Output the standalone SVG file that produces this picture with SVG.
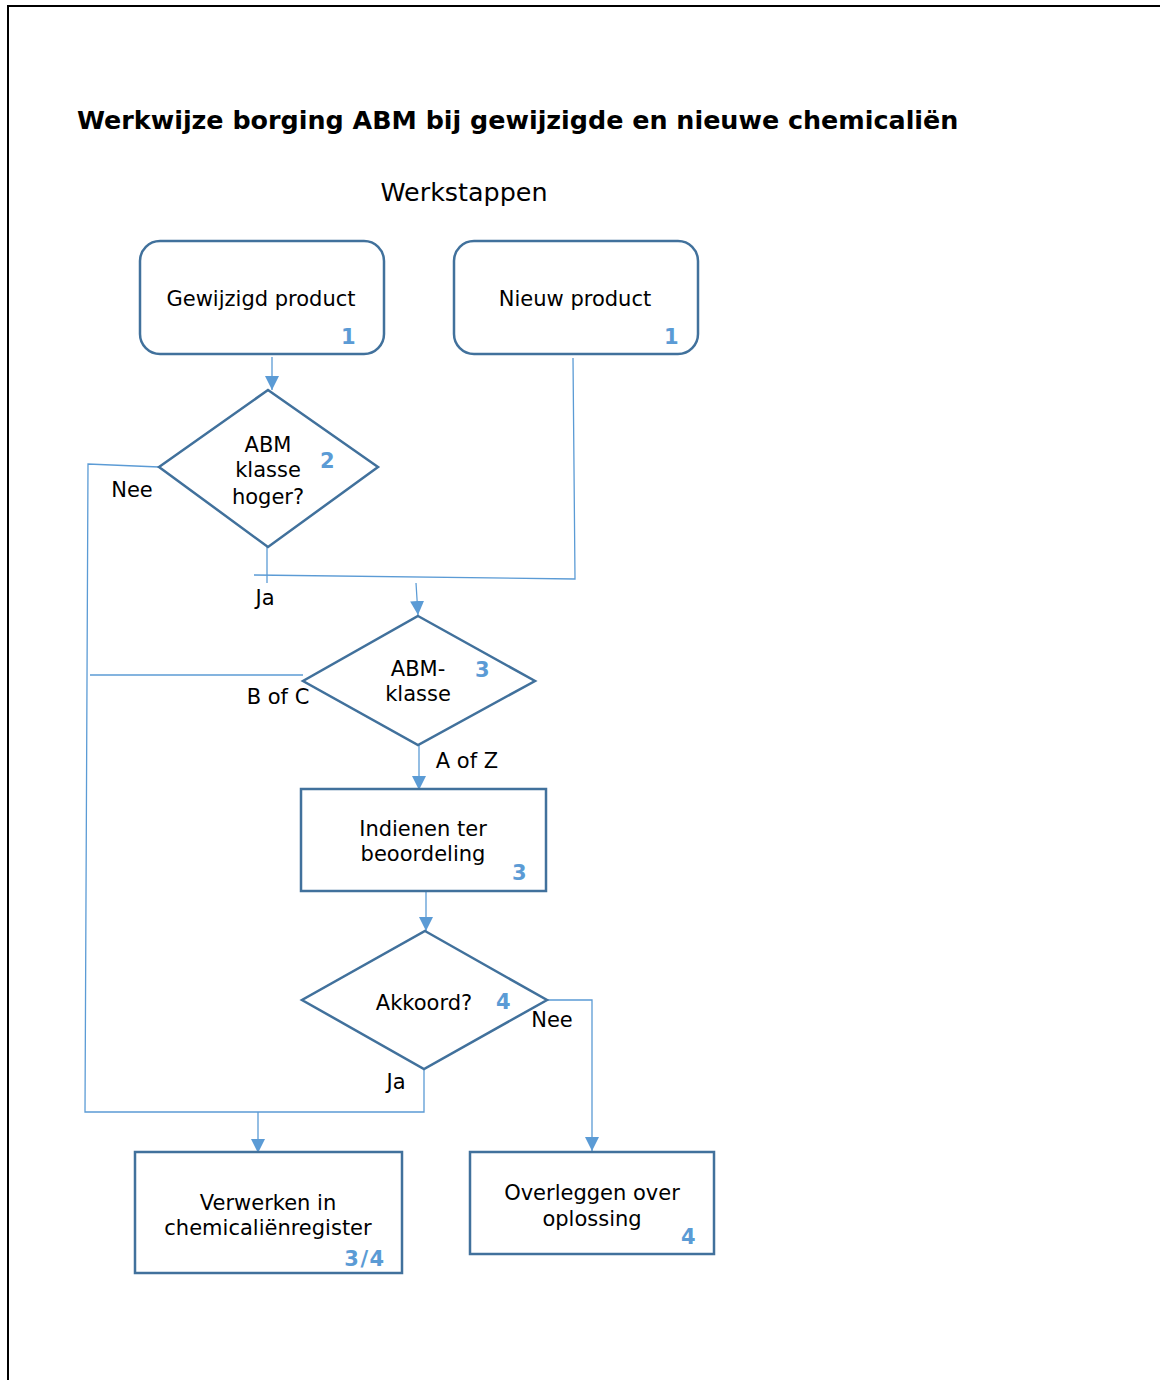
<svg xmlns="http://www.w3.org/2000/svg" width="1160" height="1380" viewBox="0 0 1160 1380">
<defs>
<style>
.t{font-family:"DejaVu Sans",Verdana,sans-serif;font-size:21px;fill:#000;text-anchor:middle}
.n{font-family:"DejaVu Sans",Verdana,sans-serif;font-size:21px;font-weight:bold;fill:#5B9BD5;text-anchor:middle;letter-spacing:1.5px}
.s{fill:#fff;stroke:#41719C;stroke-width:2.5}
.c{fill:none;stroke:#5B9BD5;stroke-width:1.3}
</style>
<marker id="ah" viewBox="0 0 10 10" refX="10" refY="5" markerWidth="14" markerHeight="14" markerUnits="userSpaceOnUse" orient="auto">
<path d="M0,0 L10,5 L0,10 Z" fill="#5B9BD5"/>
</marker>
</defs>
<rect x="0" y="0" width="1160" height="1380" fill="#fff"/>
<rect x="8" y="6" width="1200" height="1400" fill="none" stroke="#000" stroke-width="2"/>
<text x="77" y="129" style="font-family:'DejaVu Sans',Verdana,sans-serif;font-size:25.4px;font-weight:bold" fill="#000">Werkwijze borging ABM bij gewijzigde en nieuwe chemicaliën</text>
<text x="464" y="201" class="t" style="font-size:25.4px">Werkstappen</text>

<g id="connectors">
<line class="c" x1="272" y1="357" x2="272" y2="390" marker-end="url(#ah)"/>
<polyline class="c" points="573,358 575,579 254,575"/>
<line class="c" x1="416" y1="583" x2="418" y2="615" marker-end="url(#ah)"/>
<line class="c" x1="267" y1="547" x2="267" y2="583"/>
<polyline class="c" points="159,467 88,464 85,1112 424,1112 424,1069"/>
<line class="c" x1="90" y1="675" x2="303" y2="675"/>
<line class="c" x1="419" y1="745" x2="419" y2="790" marker-end="url(#ah)"/>
<line class="c" x1="426" y1="891" x2="426" y2="931" marker-end="url(#ah)"/>
<polyline class="c" points="547,1000 592,1000 592,1151" marker-end="url(#ah)"/>
<line class="c" x1="258" y1="1112" x2="258" y2="1153" marker-end="url(#ah)"/>
<text class="t" x="132" y="497">Nee</text>
<text class="t" x="265" y="605">Ja</text>
<text class="t" x="278" y="704">B of C</text>
<text class="t" x="467" y="768">A of Z</text>
<text class="t" x="552" y="1027">Nee</text>
<text class="t" x="396" y="1089">Ja</text>
</g>

<g id="gewijzigd">
<rect class="s" x="140" y="241" width="244" height="113" rx="20"/>
<text class="t" x="261" y="306">Gewijzigd product</text>
<text class="n" x="349" y="344">1</text>
</g>
<g id="nieuw">
<rect class="s" x="454" y="241" width="244" height="113" rx="20"/>
<text class="t" x="575" y="306">Nieuw product</text>
<text class="n" x="672" y="344">1</text>
</g>
<g id="hoger">
<polygon class="s" points="268,390 378,467 268,547 159,467"/>
<text class="t" x="268" y="452">ABM</text>
<text class="t" x="268" y="477">klasse</text>
<text class="t" x="268" y="504">hoger?</text>
<text class="n" x="328" y="468">2</text>
</g>
<g id="klasse">
<polygon class="s" points="418,616 535,681 418,745 303,681"/>
<text class="t" x="418" y="676">ABM-</text>
<text class="t" x="418" y="701">klasse</text>
<text class="n" x="483" y="677">3</text>
</g>
<g id="indienen">
<rect class="s" x="301" y="789" width="245" height="102"/>
<text class="t" x="423" y="836">Indienen ter</text>
<text class="t" x="423" y="861">beoordeling</text>
<text class="n" x="520" y="880">3</text>
</g>
<g id="akkoord">
<polygon class="s" points="425,931 547,1000 424,1069 302,1000"/>
<text class="t" x="424" y="1010">Akkoord?</text>
<text class="n" x="504" y="1009">4</text>
</g>
<g id="verwerken">
<rect class="s" x="135" y="1152" width="267" height="121"/>
<text class="t" x="268" y="1210">Verwerken in</text>
<text class="t" x="268" y="1235">chemicaliënregister</text>
<text class="n" x="365" y="1266">3/4</text>
</g>
<g id="overleggen">
<rect class="s" x="470" y="1152" width="244" height="102"/>
<text class="t" x="592" y="1200">Overleggen over</text>
<text class="t" x="592" y="1226">oplossing</text>
<text class="n" x="689" y="1244">4</text>
</g>
</svg>
